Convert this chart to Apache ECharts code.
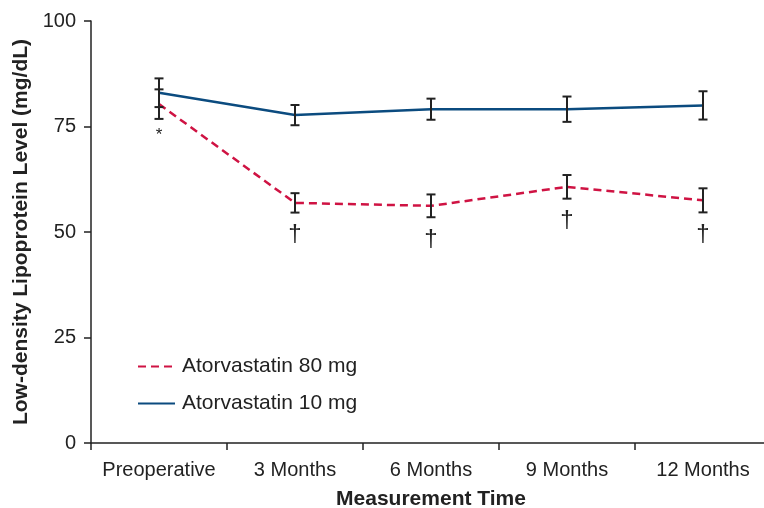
<!DOCTYPE html>
<html>
<head>
<meta charset="utf-8">
<script src="https://cdn.jsdelivr.net/npm/echarts@6/dist/echarts.min.js"></script>
<style>html,body{margin:0;padding:0;background:#fff}#c{width:764px;height:508px}</style>
</head>
<body>
<div id="c"></div>
<script>
var categories = ['Preoperative', '3 Months', '6 Months', '9 Months', '12 Months'];
var yTicks = [0, 25, 50, 75, 100];
var high80 = [80.3, 56.9, 56.2, 60.7, 57.5];
var high80Err = [3.5, 2.3, 2.7, 2.8, 2.85];
var low10 = [83.0, 77.7, 79.1, 79.1, 80.0];
var low10Err = [3.4, 2.4, 2.5, 3.0, 3.35];
var marks80 = ['*', '\u2020', '\u2020', '\u2020', '\u2020'];
var seriesNames = ['Atorvastatin 80 mg', 'Atorvastatin 10 mg'];

var FONT = 'Liberation Sans, Arial, Helvetica, sans-serif';
var RED = '#cf1343';
var BLUE = '#0b4b7f';
var INK = '#222222';

function errData(vals, errs, marks) {
  return vals.map(function (v, i) {
    return [i, v - errs[i], v + errs[i], marks ? marks[i] : ''];
  });
}

function renderErr(params, api) {
  var x = api.value(0);
  var lo = api.coord([x, api.value(1)]);
  var hi = api.coord([x, api.value(2)]);
  var cap = 4.5;
  var style = { stroke: INK, lineWidth: 2 };
  var children = [
    { type: 'line', shape: { x1: lo[0], y1: lo[1], x2: hi[0], y2: hi[1] }, style: style },
    { type: 'line', shape: { x1: lo[0] - cap, y1: lo[1], x2: lo[0] + cap, y2: lo[1] }, style: style },
    { type: 'line', shape: { x1: hi[0] - cap, y1: hi[1], x2: hi[0] + cap, y2: hi[1] }, style: style }
  ];
  var m = api.value(3);
  if (m) {
    var isStar = m === '*';
    children.push({
      type: 'text',
      style: {
        text: m,
        x: lo[0],
        y: lo[1] + (isStar ? 8 : 10),
        align: 'center',
        verticalAlign: 'top',
        fill: INK,
        font: (isStar ? '17px ' : '24px ') + FONT
      }
    });
  }
  return { type: 'group', children: children };
}

var chart = echarts.init(document.getElementById('c'), null, { renderer: 'canvas' });
chart.setOption({
  animation: false,
  backgroundColor: '#fff',
  grid: { left: 91, top: 21, height: 422, width: 680, containLabel: false, outerBoundsMode: 'none' },
  legend: {
    left: 132,
    top: 351,
    orient: 'vertical',
    itemWidth: 37,
    itemHeight: 16,
    itemGap: 16,
    data: seriesNames,
    itemStyle: { opacity: 0 },
    textStyle: { fontFamily: FONT, fontSize: 21, color: INK, padding: [0, 0, 0, 2] }
  },
  xAxis: {
    type: 'category',
    data: categories,
    boundaryGap: true,
    name: 'Measurement Time',
    nameLocation: 'middle',
    nameGap: 46,
    nameTextStyle: { fontFamily: FONT, fontSize: 21, fontWeight: 'bold', color: INK },
    axisLine: { lineStyle: { color: INK, width: 1.5 } },
    axisTick: { show: true, length: 7, inside: false, lineStyle: { color: INK, width: 1.5 } },
    axisLabel: { fontFamily: FONT, fontSize: 20, color: INK, margin: 17, interval: 0, hideOverlap: false },
    splitLine: { show: false }
  },
  yAxis: {
    type: 'value',
    min: yTicks[0],
    max: yTicks[yTicks.length - 1],
    interval: 25,
    name: 'Low-density Lipoprotein Level (mg/dL)',
    nameLocation: 'middle',
    nameGap: 59,
    nameTextStyle: { fontFamily: FONT, fontSize: 21, fontWeight: 'bold', color: INK },
    axisLine: { show: true, lineStyle: { color: INK, width: 1.5 } },
    axisTick: { show: true, length: 7, inside: false, lineStyle: { color: INK, width: 1.5 } },
    axisLabel: { fontFamily: FONT, fontSize: 20, color: INK, margin: 15 },
    splitLine: { show: false }
  },
  series: [
    {
      name: seriesNames[0],
      type: 'line',
      data: high80,
      symbol: 'none',
      color: RED,
      lineStyle: { color: RED, width: 2.5, type: [8, 5] },
      z: 2
    },
    {
      name: seriesNames[1],
      type: 'line',
      data: low10,
      symbol: 'none',
      color: BLUE,
      lineStyle: { color: BLUE, width: 2.5 },
      z: 2
    },
    {
      type: 'custom',
      renderItem: renderErr,
      data: errData(high80, high80Err, marks80),
      encode: { x: 0, y: [1, 2] },
      z: 3,
      silent: true
    },
    {
      type: 'custom',
      renderItem: renderErr,
      data: errData(low10, low10Err, null),
      encode: { x: 0, y: [1, 2] },
      z: 3,
      silent: true
    }
  ]
});
</script>
</body>
</html>
